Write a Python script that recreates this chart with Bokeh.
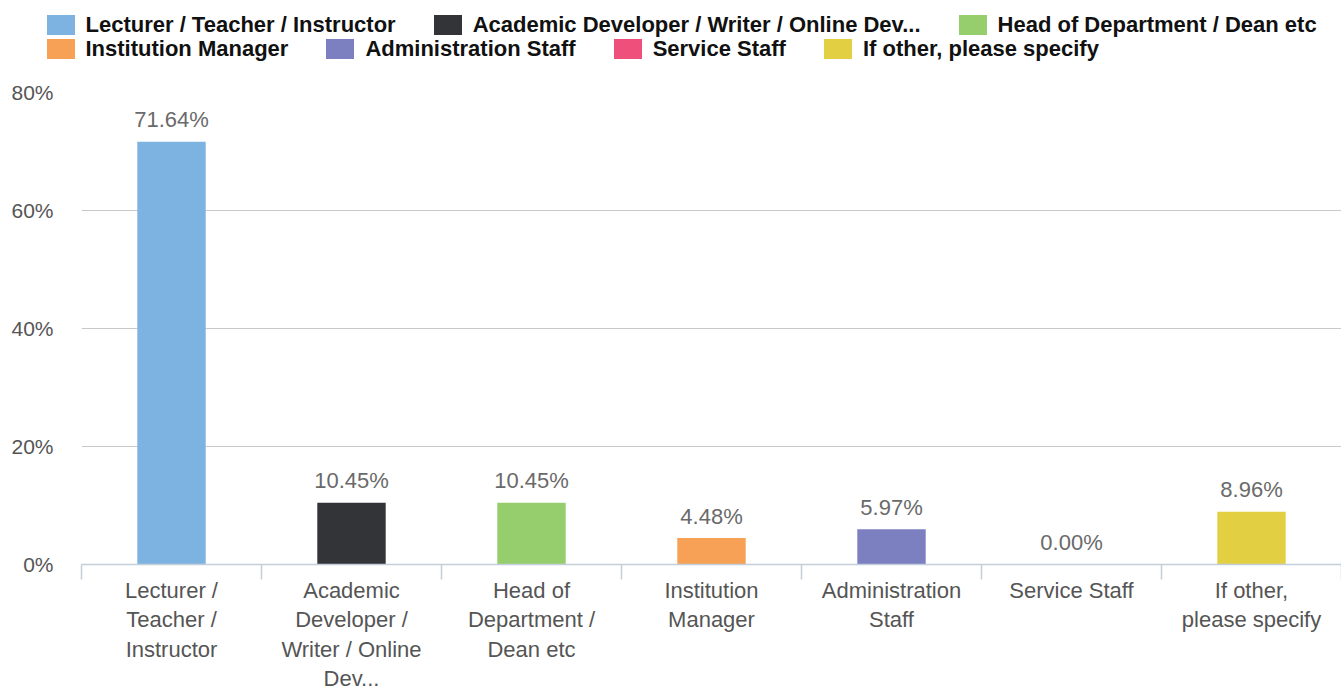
from bokeh.plotting import figure
from bokeh.layouts import column
from bokeh.models import ColumnDataSource, FixedTicker, Legend, LegendItem, Range1d
from bokeh.embed import file_html
from bokeh.resources import INLINE
from bokeh.core.properties import value

legend_labels = [
    "Lecturer / Teacher / Instructor",
    "Academic Developer / Writer / Online Dev...",
    "Head of Department / Dean etc",
    "Institution Manager",
    "Administration Staff",
    "Service Staff",
    "If other, please specify",
]
axis_labels = [
    "Lecturer /\nTeacher /\nInstructor",
    "Academic\nDeveloper /\nWriter / Online\nDev...",
    "Head of\nDepartment /\nDean etc",
    "Institution\nManager",
    "Administration\nStaff",
    "Service Staff",
    "If other,\nplease specify",
]
percent = [71.64, 10.45, 10.45, 4.48, 5.97, 0.00, 8.96]
colors = ["#7CB3E1", "#333438", "#96CE6E", "#F6A156", "#7C7FC0", "#EE4F7B", "#E2CF42"]
y_ticks = [0, 20, 40, 60, 80]
legend_rows = [[0, 1, 2], [3, 4, 5, 6]]

FONT = "Liberation Sans"
n = len(legend_labels)
x_pos = [i + 0.5 for i in range(n)]
W = 1341
LEG_H = 72

src = ColumnDataSource(dict(
    x=x_pos, top=percent, color=colors,
    label=[f"{v:.2f}%" for v in percent],
))

# ---- legend strip (its own figure, so the legend is not clipped by the chart frame)
lf = figure(frame_width=W, frame_height=LEG_H, output_backend="svg", toolbar_location=None,
            x_axis_type=None, y_axis_type=None, x_range=Range1d(0, n), y_range=Range1d(1000, 1001),
            min_border=0)
lf.outline_line_color = None
proxy = lf.vbar(x="x", top="top", width=0.38, color="color", source=src, line_color=None)
locs = [(42.5, 34.5), (42.5, 10.5)]
for row, loc in zip(legend_rows, locs):
    items = [LegendItem(label=legend_labels[i], renderers=[proxy], index=i) for i in row]
    lg = Legend(items=items, orientation="horizontal", location=loc,
                glyph_width=35, glyph_height=25, label_standoff=8, spacing=34,
                padding=0, margin=0, border_line_color=None, background_fill_alpha=0,
                label_text_font_size="22px", label_text_font_style="bold",
                label_text_color="#111111", label_text_font=FONT, label_height=22)
    lf.add_layout(lg, "center")

# ---- main chart
p = figure(frame_width=1260, frame_height=472, output_backend="svg", toolbar_location=None,
           x_range=Range1d(0, n), y_range=Range1d(0, y_ticks[-1]),
           min_border_left=81, min_border_right=0, min_border_top=20, min_border_bottom=126)
p.outline_line_color = None
p.background_fill_color = "white"

bars = p.vbar(x="x", top="top", width=0.38, color="color", source=src, line_color=None)
p.text(x="x", y="top", text="label", source=src, text_align="center", text_baseline="alphabetic",
       y_offset=-22, text_font_size="22px", text_color="#6a6a6a", text_font=value(FONT))

p.xgrid.visible = False
p.ygrid.ticker = FixedTicker(ticks=y_ticks)
p.ygrid.grid_line_color = "#c9c9c9"
p.ygrid.grid_line_width = 1.2

ya = p.yaxis[0]
ya.ticker = FixedTicker(ticks=y_ticks)
ya.major_label_overrides = {t: f"{t}%" for t in y_ticks}
ya.axis_line_color = None
ya.major_tick_line_color = None
ya.minor_tick_line_color = None
ya.major_label_standoff = 22
ya.major_label_text_font_size = "21px"
ya.major_label_text_color = "#555555"
ya.major_label_text_font = FONT

xa = p.xaxis[0]
xa.ticker = FixedTicker(ticks=x_pos, minor_ticks=list(range(n + 1)))
xa.major_label_overrides = {x: lab for x, lab in zip(x_pos, axis_labels)}
xa.axis_line_color = "#c3cedb"
xa.axis_line_width = 1.5
xa.major_tick_line_color = None
xa.major_tick_out = 0
xa.major_tick_in = 0
xa.minor_tick_line_color = "#c3cedb"
xa.minor_tick_line_width = 1.5
xa.minor_tick_out = 15
xa.minor_tick_in = 0
xa.major_label_standoff = -2
xa.major_label_text_font_size = "22px"
xa.major_label_text_color = "#555555"
xa.major_label_text_font = FONT
xa.major_label_text_line_height = 1.18

layout = column(lf, p, spacing=0)
open("out.html", "w").write(file_html(layout, INLINE))
